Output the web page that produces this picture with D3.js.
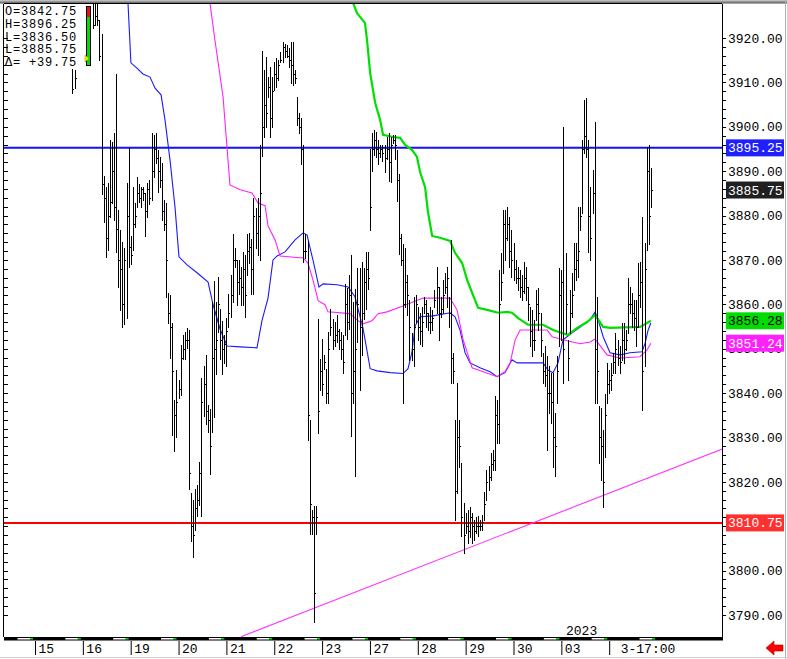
<!DOCTYPE html>
<html><head><meta charset="utf-8">
<script src="https://cdn.jsdelivr.net/npm/d3@7"></script>
<style>body{margin:0;background:#fff;} svg{display:block;} text{font-family:"Liberation Mono","DejaVu Sans Mono",monospace;}</style>
</head><body><svg id="c" width="787" height="659"></svg>
<script>
// ---------- DATA ----------
const highs = [3913,3912.75,3936,3938,3940,3941,3942,3941,3939,3936,
3930,3930,3929,3924,3921,3889,3886.5,3887.25,3897,3896.5,
3898.5,3912,3881.25,3876.75,3874,3872.75,3887.25,3895.25,3875.5,3886.5,
3882.75,3888.75,3887,3886.5,3886.5,3885,3887.25,3888,3898.5,3898.25,
3898.5,3894.75,3893.25,3891.75,3883.5,3882.75,3862.5,3862,3855.75,3838.5,
3845.25,3843,3850.75,3853,3853.75,3854.75,3854.25,3817.5,3816,3818.5,
3819.25,3824.5,3843.5,3846,3848.5,3837.25,3836.5,3860.5,3865.25,3860.5,
3866.25,3859,3856.25,3853,3857,3862.25,3866.5,3875.75,3872.75,3870,
3870,3868.5,3871.75,3871,3875.75,3876,3874.75,3884,3881.75,3884,
3896,3917,3912.75,3915.75,3911.25,3913.5,3911.25,3914.5,3915.5,3915,
3916.75,3919,3918.75,3918.5,3917.75,3919,3919,3912.75,3906.75,3903,
3902,3896,3875.75,3874.25,3834,3813.75,3814.5,3814.5,3856.75,3847.75,
3852.25,3848.5,3845.5,3853.75,3859,3856.75,3856,3857.5,3854.5,3853.75,
3853,3864.5,3863.75,3866.5,3871,3860.5,3863.5,3868.25,3868.25,3869.5,
3868.25,3871.75,3871.75,3895,3898.5,3899.25,3898.75,3897,3896,3896,
3896,3897.75,3898.5,3897.75,3898.25,3898.25,3894.75,3889.25,3875.75,3873.5,
3872.75,3866.5,3861,3853.5,3861.75,3862,3859.5,3858,3859.5,3861.75,
3861,3858,3859.5,3858.75,3863.25,3868.5,3864,3861.75,3865.5,3867,
3868.5,3861.75,3874.5,3849,3834,3842.25,3834,3824.25,3815.25,3813,
3813.75,3814.25,3813,3811.5,3812,3812.25,3811.5,3812.5,3817.75,3822.75,
3823.5,3826.5,3827.25,3839.25,3838.5,3867.75,3871.5,3881.25,3881.25,3882,
3879.75,3876.75,3873.75,3870,3868.5,3867.75,3866.5,3869.5,3868.5,3864,
3859.5,3858.75,3856.5,3863.25,3863.75,3858,3849,3850.5,3848.25,3846,
3844.5,3844.5,3835.5,3848.25,3868.25,3867.75,3900,3871.5,3852,3863.25,
3867,3873.75,3873.75,3882,3882,3897,3906,3906.5,3897,3886.5,
3890.25,3901,3861.75,3837,3836.75,3831.75,3839.75,3846.75,3845.25,3846.75,
3849,3853.5,3852,3850.5,3855.75,3855.75,3854.25,3866,3864,3862.5,
3861,3861,3869.25,3869.5,3879.75,3873.75,3895.5,3896,3890.75];

const lows = [3907.5,3908.75,3930,3931,3933,3934,3935,3933,3931,3929,
3922.25,3923,3923,3915,3884.75,3878.5,3870.75,3872.25,3879.75,3882.75,
3879,3871.75,3864,3858.75,3855,3855.5,3857,3868.5,3869,3872.25,
3877.5,3882,3883,3882,3883.5,3875.5,3879.75,3882.5,3883.5,3888.75,
3891.75,3885.25,3886.5,3879,3876.75,3861.75,3855.75,3848,3830.5,3827,
3830,3839,3839.5,3847.75,3847.75,3850.25,3818.5,3806.75,3803,3809.25,
3812.25,3814.75,3812.25,3834.75,3833,3831.25,3821.75,3831.25,3834.5,3844.25,
3853.75,3847.75,3844.25,3846.75,3846,3855,3857.25,3860.5,3868.5,3859.75,
3862.25,3859.75,3859.75,3857.25,3866.5,3869.25,3862.25,3862.25,3872.75,3871,
3870,3893.5,3897.75,3900,3906.75,3897.75,3900,3908.25,3909,3910.5,
3914.5,3914.5,3915.75,3915.75,3913.5,3909.75,3909.5,3909.75,3900.5,3898.5,
3891.5,3869.5,3870.5,3829.5,3808.25,3808.25,3788.5,3808.25,3831,3840.75,
3839.5,3845.5,3837.75,3837.75,3853,3850,3850.5,3851.5,3850,3847.75,
3844.5,3853,3852.25,3854.5,3830.25,3837.75,3821.25,3851.5,3840.75,3848.5,
3856.75,3859,3863.5,3876.75,3890,3893.75,3893.25,3891.5,3893.25,3892.25,
3889.75,3892.75,3887.75,3887.5,3896.25,3892.75,3883.25,3871.25,3868.75,3837.75,
3859.5,3857.5,3847.5,3847.5,3846,3856,3852,3851,3850.5,3858,
3855,3854.25,3853.5,3854.25,3859.5,3858,3852,3857.25,3858,3862.5,
3859.5,3855,3842.25,3842.25,3811.5,3817.5,3823.25,3807.75,3804,3808.5,
3806.25,3807.5,3806.25,3807,3808.5,3807.75,3809.25,3809.25,3811.5,3816,
3818.25,3820.5,3822.75,3822.75,3828.75,3828.75,3861,3867,3870,3874.5,
3868.5,3866.25,3865.5,3864.75,3863.25,3861.75,3861,3862.5,3861,3856.5,
3850.5,3848.25,3849.75,3856.5,3854.25,3848.25,3842.25,3841.5,3827.25,3835.5,
3833.25,3823.25,3821.25,3837.75,3850.5,3852,3842.25,3853.5,3843,3853.5,
3857.25,3863.25,3865.5,3866.25,3876.75,3880.5,3894,3893.25,3871.75,3870,
3880.5,3837.75,3837.75,3824.25,3820.5,3814.25,3825.5,3837.75,3840,3840.75,
3844.5,3844.5,3846.25,3844.5,3847.5,3846.75,3849.75,3853.5,3858,3855,
3854.25,3850.5,3855,3859.5,3836.25,3846,3872.25,3873.5,3882];

const closes = [3908.5,3911,3933,3935,3937,3938,3939,3936,3933,3931,
3923,3925,3924,3916,3887,3884,3875,3880,3883,3890,
3882,3877,3870,3868,3860,3870,3880,3873,3871,3878,
3880,3885,3884,3886,3885,3881,3886,3884,3890,3895,
3893,3890,3888,3881,3878,3870,3858,3855,3845,3835,
3838,3841,3848,3850,3852,3852,3822,3810,3808,3814,
3816,3822,3838,3842,3836,3834,3828,3848,3850,3852,
3860,3852,3850,3851,3854,3858,3862,3870,3870,3865,
3866,3864,3868,3862,3872,3873,3868,3880,3876,3880,
3885,3900,3905,3903,3909,3902,3908,3912,3911,3914,
3915,3918,3917,3916,3915,3914,3912,3911,3902,3900,
3895,3872,3872,3835,3815,3812,3795,3812,3836,3845,
3842,3847,3840,3850,3855,3852,3853,3854,3852,3850,
3847,3860,3856,3862,3840,3845,3850,3860,3855,3858,
3865,3868,3866,3882,3895,3897,3895,3894,3895,3894,
3893,3895,3892,3896,3897,3896,3888,3875,3870,3860,
3865,3862,3855,3850,3855,3860,3855,3854,3856,3860,
3858,3856,3856,3857,3861,3864,3858,3859,3862,3864,
3866,3858,3848,3845,3818,3830,3828,3812,3808,3810,
3809,3812,3810,3809,3810,3810,3810,3811,3815,3820,
3821,3824,3825,3835,3833,3860,3865,3878,3875,3878,
3872,3870,3868,3866,3866,3864,3863,3866,3864,3860,
3854,3852,3852,3860,3858,3852,3845,3844,3840,3840,
3838,3830,3828,3845,3862,3865,3850,3860,3848,3858,
3862,3868,3870,3872,3880,3895,3898,3895,3880,3875,
3885,3850,3845,3830,3828,3820,3835,3842,3843,3844,
3847,3850,3848,3847,3852,3850,3852,3860,3860,3858,
3857,3855,3862,3865,3845,3868,3890,3880,3885.75];

// moving averages: [bar index, value]
const blueMA = [[26,3934],[26.7,3927.9],[28.1,3914.4],[31,3913.2],[33.9,3911.9],[37.3,3911.2],[39.7,3908.7],[42.6,3907.2],[44.5,3901.5],[46.9,3892.5],[49.3,3881.9],[51.2,3870.7],[55.1,3868.9],[59.9,3867.1],[65.2,3865],[67.6,3859.9],[70.9,3854.5],[74.3,3850.6],[80.6,3850.4],[88.7,3850.2],[91.1,3856.3],[94,3861.4],[96.4,3870],[98.4,3870.9],[102.2,3871.8],[107,3874.5],[110.9,3876.1],[112.8,3875.6],[114.2,3872.7],[115.6,3870],[118.5,3863.9],[120.5,3864.6],[127.2,3864.4],[132.5,3863.9],[135.8,3861.7],[139.7,3854.5],[143.1,3845.5],[146.4,3845],[152.7,3844.6],[158.9,3844.4],[161.3,3845.5],[163.2,3849.3],[164.7,3855.1],[167.1,3857.2],[173.3,3857.4],[181.5,3858.1],[183.9,3857.2],[186.3,3854.2],[188.7,3849.1],[191.1,3846.8],[195.9,3845.7],[200.7,3844.8],[204.1,3843.7],[207.9,3844.6],[211.3,3847.5],[213.7,3846.8],[226.2,3846.8],[228.6,3845.2],[231,3844.6],[233.4,3846.8],[235.8,3852],[240.2,3853.6],[244,3854.9],[248.8,3856.5],[251.2,3858.3],[252.7,3856.5],[255.1,3852.7],[258.4,3849.1],[263.2,3848.6],[268,3849.1],[273.8,3849.3],[275.3,3851.3],[276.7,3854.2],[278,3855.8]];
const magentaMA = [[64.7,3932.8],[66.1,3927.9],[68.5,3919.5],[72.4,3906.7],[75.7,3886.9],[80.6,3885.8],[86.3,3885.1],[89.2,3882.8],[92.6,3882.2],[94,3877.7],[97.4,3874.5],[99.8,3870.9],[109.4,3870.5],[110.8,3870.5],[113.2,3869.3],[115.6,3865.5],[118.1,3860.8],[121.4,3859.9],[122.8,3858.3],[133.4,3857.9],[136.8,3856.5],[139.7,3855.6],[144,3856.3],[146.9,3857.9],[151.2,3858.3],[158.9,3859.6],[163.7,3860.5],[168.5,3861.4],[181.5,3861.4],[184.9,3858.7],[187.8,3852],[192.1,3845.7],[197.4,3844.8],[204.1,3843.7],[207.9,3844.8],[210.4,3846.8],[212.8,3852],[215.2,3854.2],[228.2,3854.2],[230.6,3852.7],[237.8,3851.8],[244,3851.1],[248.8,3851.5],[251.2,3852.2],[253.6,3850.7],[257,3848.6],[263.2,3847.9],[272.8,3848.2],[276.2,3849.7],[278,3851.24]];
const greenMA = [[133.9,3933.1],[134.9,3927.9],[136.8,3925.6],[140.6,3923.4],[141.6,3919.5],[143.1,3912.1],[145.5,3905.4],[147.9,3901.5],[149.3,3898.2],[154.1,3897.7],[157.5,3897.5],[159.9,3895.9],[163.2,3894.8],[165.6,3893.2],[167.1,3889.8],[169.5,3886.4],[170.9,3880.8],[172.9,3875.4],[176.7,3875],[181.5,3874.3],[183.9,3871.6],[187.3,3869.3],[189.7,3865.5],[192.1,3862.6],[195,3859.2],[199.8,3858.7],[204.6,3858.1],[208.9,3858.3],[211.3,3858.1],[214.2,3856.9],[219,3855.4],[226.2,3855.4],[231,3854.2],[238.2,3853.1],[242.6,3854.7],[247.4,3856],[251.2,3857.6],[255.1,3854.9],[258.4,3854.7],[272.8,3854.9],[276.2,3855.8],[278,3856.28]];
const trendLine = [[81.0,3785.1],[312.3,3827.4]];
const levelLines = [{v:3895.25,color:"#1010ff"},{v:3810.75,color:"#ff0000"}];
const priceTicks = [3790,3800,3820,3830,3840,3850,3860,3870,3880,3890,3900,3910,3920];
const dayLabels = ["15","16","19","20","21","22","23","27","28","29","30","03","3-17:00"];
const badges = [
  {v:3895.25,bg:"#2020ff",fg:"#ffffff"},
  {v:3885.75,bg:"#202020",fg:"#ffffff"},
  {v:3856.28,bg:"#00dd00",fg:"#000000"},
  {v:3851.24,bg:"#ff20ff",fg:"#ffffff"},
  {v:3810.75,bg:"#ff3030",fg:"#ffffff"}];
const legendLines = ["O=3842.75","H=3896.25","L=3836.50","L=3885.75","\u0394= +39.75"];
const barsPerSession = 23, firstBarOffset = 18;

// ---------- SCALES ----------
const svg = d3.select("#c");
const plot = {l:4, t:4, r:722, b:637};
const x = d3.scaleLinear().domain([0,13]).range([35, 35+47.85*13]);
const bx = i => x((i+firstBarOffset)/barsPerSession);
const y = d3.scaleLinear().domain([3790,3920]).range([615,38]);

svg.append("rect").attr("width",787).attr("height",659).attr("fill","#fff");
const defs = svg.append("defs");
defs.append("clipPath").attr("id","clip").append("rect")
  .attr("x",plot.l).attr("y",plot.t).attr("width",plot.r-plot.l).attr("height",plot.b-plot.t);
const gr = defs.append("linearGradient").attr("id","topg").attr("x1",0).attr("x2",0).attr("y1",0).attr("y2",1);
gr.append("stop").attr("offset","0").attr("stop-color","#d0d0d0");
gr.append("stop").attr("offset","1").attr("stop-color","#505050");

const g = svg.append("g").attr("clip-path","url(#clip)");

// level lines
levelLines.forEach(d=>{
  g.append("line").attr("x1",plot.l).attr("x2",plot.r).attr("y1",y(d.v)).attr("y2",y(d.v))
   .attr("stroke",d.color).attr("stroke-width",2);
});

// MA lines
const line = d3.line().x(d=>bx(d[0])).y(d=>y(d[1]));
g.append("path").datum(blueMA).attr("d",line).attr("fill","none").attr("stroke","#1a1aff").attr("stroke-width",1.1);
g.append("path").datum(magentaMA).attr("d",line).attr("fill","none").attr("stroke","#ff22ff").attr("stroke-width",1.1);
g.append("path").datum(greenMA).attr("d",line).attr("fill","none").attr("stroke","#00e000").attr("stroke-width",2.2);
g.append("path").datum(trendLine).attr("d",line).attr("fill","none").attr("stroke","#ff33ff").attr("stroke-width",1.1);

// bars
const idx = d3.range(highs.length);
const px = i => Math.round(bx(i)) + 0.5;
g.selectAll("line.bar").data(idx).join("line").attr("class","bar")
  .attr("x1",px).attr("x2",px).attr("y1",i=>Math.round(y(highs[i]))).attr("y2",i=>Math.round(y(lows[i]))+1)
  .attr("stroke","#000").attr("stroke-width",1);
g.selectAll("line.cl").data(idx).join("line").attr("class","cl")
  .attr("x1",i=>px(i)).attr("x2",i=>px(i)+1.5).attr("y1",i=>Math.round(y(closes[i]))+0.5).attr("y2",i=>Math.round(y(closes[i]))+0.5)
  .attr("stroke","#000").attr("stroke-width",1);

// legend
svg.append("rect").attr("x",4).attr("y",4).attr("width",88).attr("height",63).attr("fill","#fff");
svg.selectAll("text.leg").data(legendLines).join("text").attr("class","leg")
  .attr("x",5).attr("y",(d,i)=>15+i*12.8).attr("font-size",12).attr("letter-spacing",0.8).attr("fill","#000").text(d=>d);
svg.append("rect").attr("x",86.5).attr("y",6.5).attr("width",4).attr("height",59).attr("fill","#00dd00").attr("stroke","#000");
svg.append("rect").attr("x",87).attr("y",7).attr("width",3).attr("height",10).attr("fill","#ee1010");
svg.append("path").attr("d","M85,55 L89,58.5 L85,62 Z").attr("fill","#ffee00").attr("stroke","#a08000").attr("stroke-width",0.5);

// frame
svg.append("rect").attr("x",0).attr("y",0).attr("width",787).attr("height",3.5).attr("fill","url(#topg)");
svg.append("line").attr("x1",plot.l-0.5).attr("x2",plot.l-0.5).attr("y1",plot.t).attr("y2",plot.b).attr("stroke","#000");
svg.append("line").attr("x1",plot.l).attr("x2",plot.r).attr("y1",plot.t-0.5).attr("y2",plot.t-0.5).attr("stroke","#000");
svg.append("line").attr("x1",plot.r+0.5).attr("x2",plot.r+0.5).attr("y1",plot.t).attr("y2",plot.b+3).attr("stroke","#000");
svg.append("line").attr("x1",785.5).attr("x2",785.5).attr("y1",0).attr("y2",659).attr("stroke","#b0b0b0");
svg.append("line").attr("x1",0).attr("x2",787).attr("y1",657.5).attr("y2",657.5).attr("stroke","#d0d0d0");

// minor ticks left & right
const minor = d3.range(3790,3922,2);
svg.selectAll("line.mr").data(minor).join("line").attr("class","mr")
  .attr("x1",plot.r).attr("x2",plot.r+4).attr("y1",d=>Math.round(y(d))+0.5).attr("y2",d=>Math.round(y(d))+0.5).attr("stroke","#000");
svg.selectAll("line.ml").data(minor).join("line").attr("class","ml")
  .attr("x1",plot.l).attr("x2",plot.l+4).attr("y1",d=>Math.round(y(d))+0.5).attr("y2",d=>Math.round(y(d))+0.5).attr("stroke","#000");

// right price axis
const yAxis = d3.axisRight(y).tickValues(priceTicks).tickFormat(d3.format(".2f")).tickSize(0).tickPadding(6);
const ya = svg.append("g").attr("transform",`translate(${plot.r},0)`).call(yAxis);
ya.select(".domain").remove();
ya.selectAll("text").attr("font-family","Liberation Mono").attr("font-size",13).attr("fill","#000");

// badges
const bg = svg.selectAll("g.badge").data(badges).join("g").attr("class","badge")
  .attr("transform",d=>`translate(726,${y(d.v)})`);
bg.append("rect").attr("x",0).attr("y",-8.5).attr("width",58).attr("height",17).attr("fill",d=>d.bg);
bg.append("text").attr("x",2).attr("y",4.5).attr("font-size",13).attr("fill",d=>d.fg).text(d=>d.v.toFixed(2));

// bottom time axis
svg.append("rect").attr("x",plot.l).attr("y",plot.b).attr("width",plot.r-plot.l+1).attr("height",3.5).attr("fill","#000");
const sess = d3.range(0,14);
svg.selectAll("rect.wd").data(sess).join("rect").attr("class","wd")
  .attr("x",d=>x(d)-17.5).attr("y",plot.b+1).attr("width",12.5).attr("height",1.5).attr("fill","#fff");
svg.selectAll("rect.gd").data(sess).join("rect").attr("class","gd")
  .attr("x",d=>x(d)-5).attr("y",plot.b+1).attr("width",3).attr("height",1.5).attr("fill","#00e000");
const xAxis = d3.axisBottom(x).tickValues(d3.range(dayLabels.length)).tickFormat(i=>dayLabels[i]).tickSize(14).tickPadding(0);
const xa = svg.append("g").attr("transform",`translate(0,${plot.b+4})`).call(xAxis);
xa.select(".domain").remove();
xa.selectAll(".tick line").attr("stroke","#000");
xa.selectAll(".tick text").attr("font-family","Liberation Mono").attr("font-size",13).attr("fill","#000")
  .attr("text-anchor","start").attr("x",i=>dayLabels[i].length>2?11:3).attr("y",3).attr("dy","0.71em");
svg.append("text").attr("x",566).attr("y",635).attr("font-size",13).attr("fill","#000").text("2023");

// red arrow
svg.append("path").attr("d","M766,648 L774,641 L774,645 L783,645 L783,651 L774,651 L774,655 Z")
  .attr("fill","#ff0000").attr("stroke","#b00000").attr("stroke-width",0.6);
</script></body></html>
